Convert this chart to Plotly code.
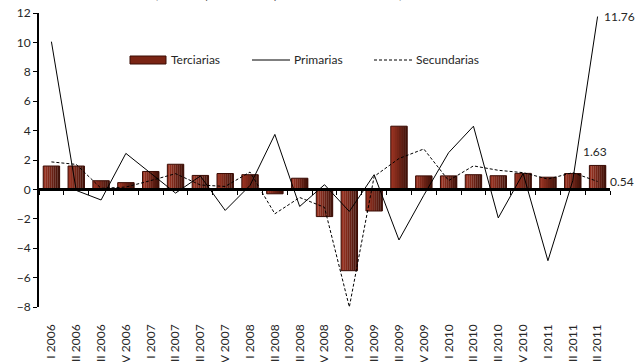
import plotly.graph_objects as go

categorias = ["I 2006", "II 2006", "III 2006", "IV 2006",
              "I 2007", "II 2007", "III 2007", "IV 2007",
              "I 2008", "II 2008", "III 2008", "IV 2008",
              "I 2009", "II 2009", "III 2009", "IV 2009",
              "I 2010", "II 2010", "III 2010", "IV 2010",
              "I 2011", "II 2011", "III 2011"]

terciarias = [1.59, 1.59, 0.59, 0.46, 1.22, 1.71, 0.95, 1.08, 1.0, -0.3, 0.76, -1.85,
              -5.53, -1.47, 4.3, 0.92, 0.92, 1.0, 0.93, 1.09, 0.83, 1.08, 1.63]

primarias = [10.05, -0.07, -0.72, 2.45, 1.1, -0.25, 0.91, -1.43, 0.27, 3.74, -1.16, 0.32,
             -1.5, 1.0, -3.44, -0.4, 2.5, 4.3, -1.94, 1.08, -4.85, 0.6, 11.76]

secundarias = [1.87, 1.7, 0.07, 0.16, 0.6, 1.07, 0.3, 0.2, 1.18, -1.66, -0.55, -1.22,
               -8.0, 0.88, 2.1, 2.75, 0.6, 1.6, 1.3, 1.14, 0.7, 1.14, 0.54]

y_ticks = [12, 10, 8, 6, 4, 2, 0, -2, -4, -6, -8]
series_names = ["Terciarias", "Primarias", "Secundarias"]
titulo = "(Variación porcentual respecto al trimestre anterior)"

FONT = "Lato"
TXT = "#262626"
BAR_LIGHT = (0x9a, 0x33, 0x22)
BAR_DARK = (0x45, 0x14, 0x0b)
BAR_EDGE = "#3a0c05"

fig = go.Figure()

# bars drawn as horizontal colour gradient (stripes) + outline
BW = 0.66
NS = 8
sw = BW / NS
for i in range(NS):
    t = i / (NS - 1)
    c = tuple(round(BAR_LIGHT[k] + (BAR_DARK[k] - BAR_LIGHT[k]) * t) for k in range(3))
    fig.add_trace(go.Bar(
        x=categorias, y=terciarias, width=sw * 1.08, offset=-BW / 2 + i * sw,
        marker=dict(color="rgb(%d,%d,%d)" % c, line=dict(width=0)),
        showlegend=False, hoverinfo="skip",
    ))
fig.add_trace(go.Bar(
    x=categorias, y=terciarias, name=series_names[0], width=BW, offset=-BW / 2,
    marker=dict(color="rgba(0,0,0,0)", line=dict(color=BAR_EDGE, width=1)),
    showlegend=False,
))
fig.add_trace(go.Scatter(
    x=categorias, y=primarias, mode="lines", name=series_names[1],
    line=dict(color="black", width=1), showlegend=False,
))
fig.add_trace(go.Scatter(
    x=categorias, y=secundarias, mode="lines", name=series_names[2],
    line=dict(color="black", width=1, dash="3px,2px"), showlegend=False,
))
# helper trace so the zero-crossing category axis gets drawn
fig.add_trace(go.Scatter(
    x=categorias, y=[None] * len(categorias), xaxis="x2", mode="lines",
    showlegend=False, hoverinfo="skip",
))

n = len(categorias)
last = categorias[-1]
fig.add_annotation(x=last, y=primarias[-1], text=f"{primarias[-1]:.2f}",
                   showarrow=False, xanchor="left", yanchor="middle", xshift=4,
                   font=dict(family=FONT, size=12, color=TXT))
fig.add_annotation(x=last, y=terciarias[-1], text=f"{terciarias[-1]:.2f}",
                   showarrow=False, xanchor="center", yanchor="bottom", yshift=4, xshift=-3,
                   font=dict(family=FONT, size=12, color=TXT))
fig.add_annotation(x=last, y=secundarias[-1], text=f"{secundarias[-1]:.2f}",
                   showarrow=False, xanchor="left", yanchor="middle", xshift=10,
                   font=dict(family=FONT, size=12, color=TXT))
fig.add_annotation(xref="paper", yref="paper", x=0.42, y=1.035, text=titulo,
                   showarrow=False, xanchor="center", yanchor="bottom",
                   font=dict(family=FONT, size=11, color="#595959"))

# manual legend (wide bar swatch like the original)
ML, MR, MT, MB = 39, 29, 13, 55
PW, PH = 639 - ML - MR, 362 - MT - MB


def px(xp):
    return (xp - ML) / PW


def py(yp):
    return (362 - MB - yp) / PH


leg_y = 60
fig.add_shape(type="rect", xref="paper", yref="paper",
              x0=px(130), x1=px(166), y0=py(64), y1=py(56),
              fillcolor="#7a2414", line=dict(color=BAR_EDGE, width=1))
fig.add_shape(type="line", xref="paper", yref="paper",
              x0=px(252), x1=px(290), y0=py(leg_y), y1=py(leg_y),
              line=dict(color="black", width=1))
fig.add_shape(type="line", xref="paper", yref="paper",
              x0=px(374), x1=px(412), y0=py(leg_y), y1=py(leg_y),
              line=dict(color="black", width=1, dash="3px,2px"))
for name, xl in zip(series_names, [169, 292, 414]):
    fig.add_annotation(xref="paper", yref="paper", x=px(xl), y=py(leg_y), text=name,
                       showarrow=False, xanchor="left", yanchor="middle",
                       font=dict(family=FONT, size=12, color=TXT))

fig.update_layout(
    width=639, height=362,
    margin=dict(l=ML, r=MR, t=MT, b=MB),
    paper_bgcolor="white", plot_bgcolor="white",
    font=dict(family=FONT, size=12, color=TXT),
    barmode="overlay",
    showlegend=False,
    xaxis=dict(type="category", categoryarray=categorias, range=[-0.5, n - 0.5],
               showline=False, showgrid=False, zeroline=False, ticks="",
               tickangle=-90, automargin=False, ticklabelstandoff=14,
               tickfont=dict(family=FONT, size=12, color=TXT)),
    xaxis2=dict(type="category", categoryarray=categorias, range=[-0.5, n - 0.5],
                overlaying="x", anchor="free", position=0.4, side="bottom",
                showticklabels=False, ticks="outside", ticklen=4, tickwidth=1,
                tickcolor="black", tickson="boundaries",
                showline=True, linecolor="black", linewidth=2.5, showgrid=False,
                zeroline=False),
    yaxis=dict(range=[-8, 12], tickvals=y_ticks, showline=True, linecolor="black",
               linewidth=2, ticks="outside", ticklen=4, tickcolor="black",
               showgrid=False, zeroline=False, automargin=False,
               tickfont=dict(family=FONT, size=12, color=TXT)),
)

fig.write_html("out.html")
